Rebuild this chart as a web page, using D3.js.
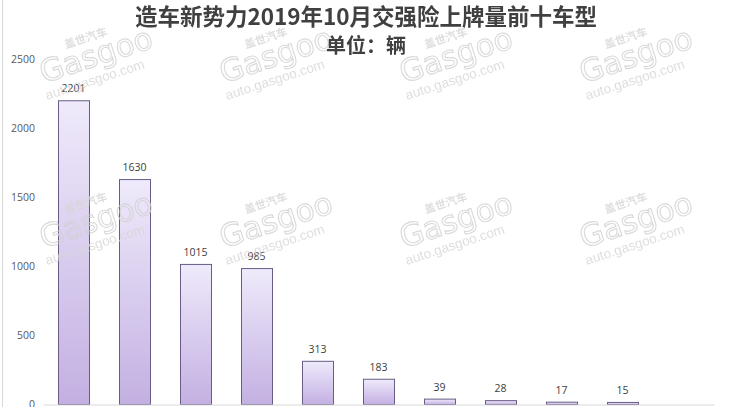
<!DOCTYPE html>
<html><head><meta charset="utf-8">
<script src="https://cdn.jsdelivr.net/npm/d3@7"></script>
<style>html,body{margin:0;padding:0;background:#fff;overflow:hidden}</style>
</head><body>
<svg id="c" width="732" height="407"></svg>
<script>
const categories = ["车型1","车型2","车型3","车型4","车型5","车型6","车型7","车型8","车型9","车型10",""];
const values = [2201,1630,1015,985,313,183,39,28,17,15,null];
const yTicks = [0,500,1000,1500,2000,2500];
const title = "造车新势力2019年10月交强险上牌量前十车型";
const subtitle = "单位：辆";

const svg = d3.select("#c");
const W = 732, H = 407;
svg.append("rect").attr("width",W).attr("height",H).attr("fill","#fff");

const defs = svg.append("defs");
const g = defs.append("linearGradient").attr("id","bg").attr("x1",0).attr("y1",0).attr("x2",0).attr("y2",1);
g.append("stop").attr("offset","0%").attr("stop-color","#efeafb");
g.append("stop").attr("offset","100%").attr("stop-color","#c3b0e2");

const x = d3.scaleBand().domain(categories.map((c,i)=>i)).range([43,714]).paddingInner(0.49).paddingOuter(0.245);
const y = d3.scaleLinear().domain([0,2500]).range([404,59]);

// frame line
svg.append("line").attr("x1",2.5).attr("x2",2.5).attr("y1",0).attr("y2",H).attr("stroke","#d9d9d9");

// y axis labels
const yAxis = d3.axisLeft(y).tickValues(yTicks).tickSize(0).tickPadding(0).tickFormat(d3.format("d"));
const ya = svg.append("g").attr("transform","translate(35,0)").call(yAxis);
ya.select(".domain").remove();
ya.selectAll("text").attr("font-family","'Open Sans','Noto Sans',sans-serif").attr("font-size","10.5px").attr("fill","#595959");

// bars
const data = values.map((v,i)=>({i,v})).filter(d=>d.v!=null);
svg.append("g").selectAll("rect").data(data).join("rect")
  .attr("x",d=>Math.round(x(d.i))+0.5)
  .attr("y",d=>y(d.v)+0.5)
  .attr("width",Math.round(x.bandwidth()))
  .attr("height",d=>y(0)-y(d.v))
  .attr("fill","url(#bg)")
  .attr("stroke","#6a5c86").attr("stroke-width",1);

// x axis (category labels fall below the visible area in the reference)
const xa = svg.append("g").attr("transform","translate(0,404.5)").call(d3.axisBottom(x).tickSize(0).tickFormat(""));
xa.select(".domain").attr("stroke","#d9d9d9");

// value labels
svg.append("g").selectAll("text").data(data).join("text")
  .attr("x",d=>x(d.i)+x.bandwidth()/2)
  .attr("y",d=>y(d.v)-8)
  .attr("text-anchor","middle")
  .attr("font-family","'Open Sans','Noto Sans',sans-serif").attr("font-size","10.5px").attr("fill","#404040")
  .text(d=>d.v);

// watermarks
const wmPos = [[38,85],[218,85],[398,85],[578,85],[38,250],[218,250],[398,250],[578,250]];
const wm = svg.append("g").attr("fill","#d6d6d6").attr("opacity",0.8);
wmPos.forEach(([px,py])=>{
  const t = wm.append("g").attr("transform",`translate(${px},${py}) rotate(-18)`);
  t.append("text").attr("x",38).attr("y",-26).attr("font-family","'Noto Sans CJK SC'").attr("font-size","11px").attr("font-weight","bold").text("盖世汽车");
  t.append("text").attr("x",6).attr("y",0).attr("font-family","'DejaVu Sans',sans-serif").attr("font-size","31px").attr("fill","none").attr("stroke","#d0d0d0").attr("stroke-width",1.1).text("Gasgoo");
  t.append("text").attr("x",4).attr("y",17).attr("font-family","'Liberation Sans',sans-serif").attr("font-size","13.5px").text("auto.gasgoo.com");
});

// titles
svg.append("text").attr("x",366).attr("y",25).attr("text-anchor","middle")
  .attr("font-family","'Noto Sans CJK SC',sans-serif").attr("font-weight","bold").attr("font-size","22.5px").attr("fill","#404040")
  .text(title);
svg.append("text").attr("x",366).attr("y",53).attr("text-anchor","middle")
  .attr("font-family","'Noto Sans CJK SC',sans-serif").attr("font-weight","bold").attr("font-size","20px").attr("fill","#404040")
  .text(subtitle);
</script>
</body></html>
